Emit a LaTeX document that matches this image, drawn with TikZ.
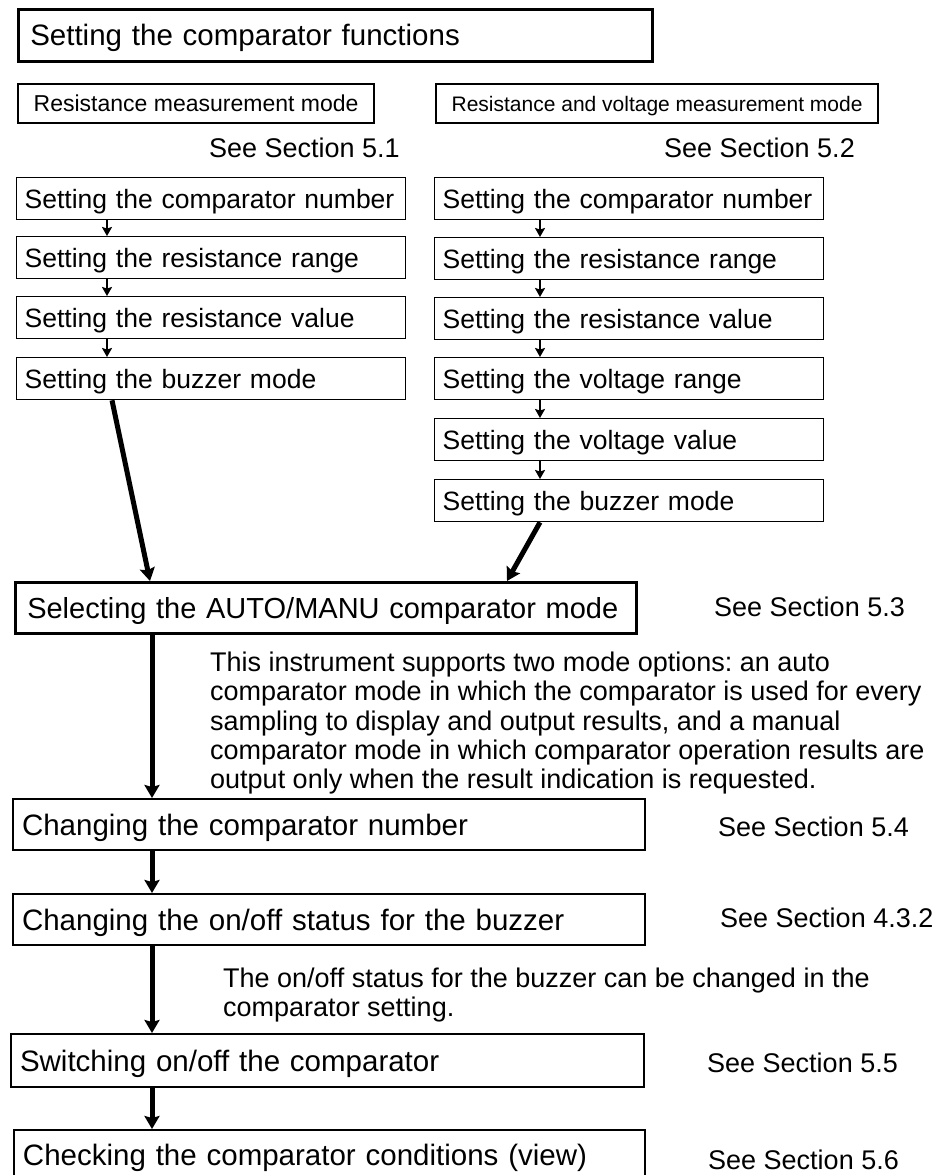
\documentclass[tikz,border=0pt]{standalone}
\usepackage{fontspec}
\setmainfont{Liberation Sans}
\usetikzlibrary{arrows.meta}

\tikzset{
    headbox/.style={draw, line width=2.5pt, anchor=north west, minimum height=52pt, text width=610pt, inner xsep=12pt, align=left, text height=21.1pt, text depth=0pt, font=\fontsize{29.5}{34}\selectfont},
    modebox/.style={draw, line width=2.2pt, anchor=north west, minimum height=39pt, inner xsep=0pt, align=center, text depth=0pt},
    stepbox/.style={draw, line width=1.3pt, anchor=north west, minimum height=42pt, text width=373pt, inner xsep=8pt, align=left, text height=19pt, text depth=0pt, font=\fontsize{26.5}{31}\selectfont},
    mainbox/.style={draw, line width=2pt, anchor=north west, minimum height=51pt, text width=614pt, inner xsep=9pt, align=left, text height=21.1pt, text depth=0pt, font=\fontsize{29.5}{34}\selectfont},
    seeref/.style={inner sep=0pt, font=\fontsize{27}{31}\selectfont},
    note/.style={anchor=north west, inner sep=0pt, align=left, font=\fontsize{27}{29.2}\selectfont},
    thinarrow/.style={line width=1.8pt, -{Stealth[length=9pt, width=10pt, inset=1.5pt]}},
    bigarrow/.style={line width=5pt, -{Stealth[length=13pt, width=15pt, inset=2pt]}}
}

\begin{document}
\frenchspacing
\begin{tikzpicture}[x=1pt, y=-1pt]
    \useasboundingbox (0,0) rectangle (940,1175);
    \fill[white] (0,0) rectangle (940,1175);
    \clip (0,0) rectangle (940,1175);

    \node[headbox] (head) at (17,8) {\mbox{Setting the comparator functions}};

    \node[modebox, minimum width=356pt, text height=16.5pt, font=\fontsize{23}{27}\selectfont] (modeR) at (17,83) {Resistance measurement mode};
    \node[modebox, minimum width=442pt, text height=15pt, font=\fontsize{21}{25}\selectfont] (modeRV) at (435,83) {Resistance and voltage measurement mode};
    \node[seeref, anchor=east] (see51) at (400,148) {See Section 5.1};
    \node[seeref, anchor=east] (see52) at (855,148) {See Section 5.2};

    % left column
    \node[stepbox] (L1) at (16,177) {\mbox{Setting the comparator number}};
    \node[stepbox] (L2) at (16,236) {\mbox{Setting the resistance range}};
    \node[stepbox] (L3) at (16,296) {\mbox{Setting the resistance value}};
    \node[stepbox] (L4) at (16,357) {\mbox{Setting the buzzer mode}};

    % right column
    \node[stepbox] (R1) at (434,177) {\mbox{Setting the comparator number}};
    \node[stepbox] (R2) at (434,237) {\mbox{Setting the resistance range}};
    \node[stepbox] (R3) at (434,297) {\mbox{Setting the resistance value}};
    \node[stepbox] (R4) at (434,357) {\mbox{Setting the voltage range}};
    \node[stepbox] (R5) at (434,418) {\mbox{Setting the voltage value}};
    \node[stepbox] (R6) at (434,479) {\mbox{Setting the buzzer mode}};

    \node[mainbox, line width=2.5pt, text width=597pt, inner xsep=12pt, font=\fontsize{29}{34}\selectfont] (auto) at (14,581) {\mbox{Selecting the AUTO/MANU comparator mode}};
    \node[seeref, anchor=west] (see53) at (714,607) {See Section 5.3};

    \node[note] (info) at (210,652) {This instrument supports two mode options: an auto\\
        comparator mode in which the comparator is used for every\\
        sampling to display and output results, and a manual\\
        comparator mode in which comparator operation results are\\
        output only when the result indication is requested.};

    \node[mainbox] (number) at (12,798) {\mbox{Changing the comparator number}};
    \node[seeref, anchor=west] (see54) at (718,827) {See Section 5.4};

    \node[mainbox] (buzzer) at (12,893) {\mbox{Changing the on/off status for the buzzer}};
    \node[seeref, anchor=west] (see432) at (720,918) {See Section 4.3.2};

    \node[note] (buzzinfo) at (223,968) {The on/off status for the buzzer can be changed in the\\
        comparator setting.};

    \node[mainbox, minimum height=53pt, text width=615pt] (switch) at (10,1033) {\mbox{Switching on/off the comparator}};
    \node[seeref, anchor=west] (see55) at (707,1063) {See Section 5.5};

    \node[mainbox, minimum height=50pt, text width=613pt] (check) at (13,1129) {\mbox{Checking the comparator conditions (view)}};
    \node[seeref, anchor=west] (see56) at (708,1160) {See Section 5.6};

    \coordinate (lx) at (107,0);
    \coordinate (rx) at (540,0);
    \coordinate (mx) at (152,0);

    \draw[thinarrow] (L1.south -| lx) -- (L2.north -| lx);
    \draw[thinarrow] (L2.south -| lx) -- (L3.north -| lx);
    \draw[thinarrow] (L3.south -| lx) -- (L4.north -| lx);

    \draw[thinarrow] (R1.south -| rx) -- (R2.north -| rx);
    \draw[thinarrow] (R2.south -| rx) -- (R3.north -| rx);
    \draw[thinarrow] (R3.south -| rx) -- (R4.north -| rx);
    \draw[thinarrow] (R4.south -| rx) -- (R5.north -| rx);
    \draw[thinarrow] (R5.south -| rx) -- (R6.north -| rx);

    \draw[bigarrow] ([xshift=96pt]L4.south west) -- ([xshift=136pt]auto.north west);
    \draw[bigarrow] ([xshift=106pt]R6.south west) -- ([xshift=493pt]auto.north west);

    \draw[bigarrow] (auto.south -| mx) -- (number.north -| mx);
    \draw[bigarrow] (number.south -| mx) -- (buzzer.north -| mx);
    \draw[bigarrow] (buzzer.south -| mx) -- (switch.north -| mx);
    \draw[bigarrow] (switch.south -| mx) -- (check.north -| mx);
\end{tikzpicture}
\end{document}
